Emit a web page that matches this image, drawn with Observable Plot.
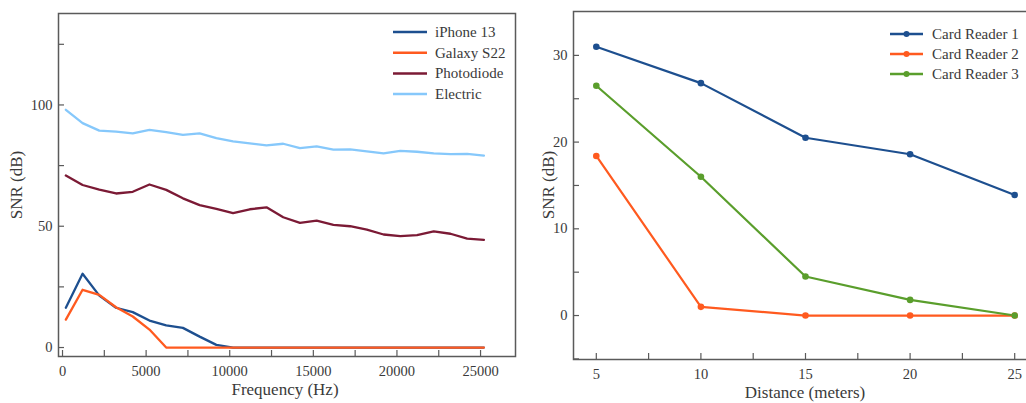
<!DOCTYPE html>
<html>
<head>
<meta charset="utf-8">
<script src="https://cdn.jsdelivr.net/npm/d3@7"></script>
<script src="https://cdn.jsdelivr.net/npm/@observablehq/plot@0.6"></script>
<style>
  html, body { margin: 0; padding: 0; background: #fff; overflow: hidden; }
  #wrap { position: relative; width: 1026px; height: 403px; overflow: hidden; }
  #left, #right { position: absolute; top: 0; width: 520px; height: 403px; }
  #left { left: 0; }
  #right { left: 520px; }
  svg { overflow: visible; max-width: none !important; }
  svg, svg text { font-family: 'Liberation Serif', 'DejaVu Serif', serif !important; }
</style>
</head>
<body>
<div id="wrap"><div id="left"></div><div id="right"></div></div>
<script>
// ---------- Left chart data ----------
const freqHz = [200, 1200, 2200, 3200, 4200, 5200, 6200, 7200, 8200, 9200, 10200, 11200, 12200,
  13200, 14200, 15200, 16200, 17200, 18200, 19200, 20200, 21200, 22200, 23200, 24200, 25200];
const iphone13 = [16.4, 30.4, 21.4, 16.4, 14.6, 11.1, 9.1, 8.1, 4.5, 1.1, 0, 0, 0,
  0, 0, 0, 0, 0, 0, 0, 0, 0, 0, 0, 0, 0];
const galaxyS22 = [11.5, 23.8, 21.7, 16.6, 12.8, 7.4, 0, 0, 0, 0, 0, 0, 0,
  0, 0, 0, 0, 0, 0, 0, 0, 0, 0, 0, 0, 0];
const photodiode = [70.9, 67.0, 65.1, 63.5, 64.2, 67.2, 65.0, 61.5, 58.7, 57.2, 55.4, 57.0, 57.8,
  53.7, 51.4, 52.3, 50.6, 50.0, 48.6, 46.6, 45.9, 46.3, 47.9, 46.9, 44.9, 44.4];
const electric = [98.0, 92.5, 89.4, 89.0, 88.3, 89.7, 88.8, 87.7, 88.3, 86.3, 85.0, 84.2, 83.3,
  84.0, 82.2, 82.9, 81.6, 81.7, 80.9, 80.0, 81.1, 80.7, 80.0, 79.7, 79.8, 79.1];
const leftSeries = ["iPhone 13", "Galaxy S22", "Photodiode", "Electric"];
const leftColors = ["#1d4f8f", "#ff5a1f", "#7b1a35", "#86c8fb"];
const leftXTickLabels = [0, 5000, 10000, 15000, 20000, 25000];
const leftXTicks = [0, 2500, 5000, 7500, 10000, 12500, 15000, 17500, 20000, 22500, 25000];
const leftYTickLabels = [0, 50, 100];
const leftYTicks = [0, 25, 50, 75, 100, 125];

// ---------- Right chart data ----------
const distances = [5, 10, 15, 20, 25];
const cardReader1 = [31.0, 26.8, 20.5, 18.6, 13.9];
const cardReader2 = [18.4, 1.0, 0, 0, 0];
const cardReader3 = [26.5, 16.0, 4.5, 1.8, 0];
const rightSeries = ["Card Reader 1", "Card Reader 2", "Card Reader 3"];
const rightColors = ["#1d4f8f", "#ff5a1f", "#5a9e2c"];
const rightXTickLabels = [5, 10, 15, 20, 25];
const rightXTicks = [5, 7.5, 10, 12.5, 15, 17.5, 20, 22.5, 25];
const rightYTickLabels = [0, 10, 20, 30];
const rightYTicks = [-5, 0, 5, 10, 15, 20, 25, 30];

const FONT = "'Liberation Serif', 'DejaVu Serif', serif";
const TEXT = "#3a3a3a";
const FRAME = "#5a5a5a";
const fmt = d3.format("d");

// build tidy tables
const leftValues = [iphone13, galaxyS22, photodiode, electric];
const leftData = leftSeries.flatMap((s, i) => freqHz.map((f, j) => ({series: s, f, v: leftValues[i][j]})));
const rightValues = [cardReader1, cardReader2, cardReader3];
const rightData = rightSeries.flatMap((s, i) => distances.map((d, j) => ({series: s, d, v: rightValues[i][j]})));

// ---------- Left plot ----------
const L = {w: 520, h: 403, ml: 58, mt: 13, mr: 5, mb: 47};
const leftPlot = Plot.plot({
  width: L.w, height: L.h,
  marginLeft: L.ml, marginTop: L.mt, marginRight: L.mr, marginBottom: L.mb,
  style: {fontFamily: FONT, fontSize: "14.5px", color: TEXT, background: "transparent"},
  x: {domain: [-240, 27090]},
  y: {domain: [-3.7, 137.7]},
  color: {domain: leftSeries, range: leftColors},
  marks: [
    Plot.line(leftData, {x: "f", y: "v", z: "series", stroke: "series", strokeWidth: 2.3, strokeLinejoin: "round"}),
    Plot.tickX(leftXTicks, {x: d => d, stroke: FRAME, strokeWidth: 1.2, insetTop: L.h - L.mt - L.mb - 6}),
    Plot.tickY(leftYTicks, {y: d => d, stroke: FRAME, strokeWidth: 1.2, insetRight: L.w - L.ml - L.mr - 6}),
    Plot.axisX({ticks: leftXTickLabels, tickFormat: fmt, tickSize: 0, tickPadding: 9, label: null, fill: TEXT}),
    Plot.axisY({ticks: leftYTickLabels, tickFormat: fmt, tickSize: 0, tickPadding: 6, label: null, fill: TEXT}),
    Plot.frame({stroke: FRAME, strokeWidth: 1.5})
  ]
});
document.getElementById("left").appendChild(leftPlot);

// ---------- Right plot ----------
const R = {w: 520, h: 403, ml: 53, mt: 11, mr: 3, mb: 44};
const rightPlot = Plot.plot({
  width: R.w, height: R.h,
  marginLeft: R.ml, marginTop: R.mt, marginRight: R.mr, marginBottom: R.mb,
  style: {fontFamily: FONT, fontSize: "14.5px", color: TEXT, background: "transparent"},
  x: {domain: [3.91, 26.09]},
  y: {domain: [-5.07, 35.06]},
  color: {domain: rightSeries, range: rightColors},
  marks: [
    Plot.line(rightData, {x: "d", y: "v", z: "series", stroke: "series", strokeWidth: 2.2, strokeLinejoin: "round"}),
    Plot.dot(rightData, {x: "d", y: "v", fill: "series", r: 3.3}),
    Plot.tickX(rightXTicks, {x: d => d, stroke: FRAME, strokeWidth: 1.2, insetTop: R.h - R.mt - R.mb - 6}),
    Plot.tickY(rightYTicks, {y: d => d, stroke: FRAME, strokeWidth: 1.2, insetRight: R.w - R.ml - R.mr - 6}),
    Plot.axisX({ticks: rightXTickLabels, tickFormat: fmt, tickSize: 0, tickPadding: 9, label: null, fill: TEXT}),
    Plot.axisY({ticks: rightYTickLabels, tickFormat: fmt, tickSize: 0, tickPadding: 6, label: null, fill: TEXT}),
    Plot.frame({stroke: FRAME, strokeWidth: 1.5})
  ]
});
document.getElementById("right").appendChild(rightPlot);

// ---------- Titles & legends ----------
function title(svg, text, x, y, rotate) {
  d3.select(svg).append("text")
    .attr("transform", `translate(${x},${y})` + (rotate ? " rotate(-90)" : ""))
    .attr("text-anchor", "middle").attr("dominant-baseline", "central")
    .style("font-family", FONT).attr("font-size", 17).attr("fill", TEXT)
    .text(text);
}
title(leftPlot, "SNR (dB)", 16, 185, true);
title(leftPlot, "Frequency (Hz)", 285, 389, false);
title(rightPlot, "SNR (dB)", 28, 185, true);
title(rightPlot, "Distance (meters)", 285, 392, false);

function legend(svg, names, colors, x0, x1, tx, y0, dy, dots) {
  const g = d3.select(svg).append("g");
  names.forEach((n, i) => {
    const y = y0 + i * dy;
    g.append("line").attr("x1", x0).attr("x2", x1).attr("y1", y).attr("y2", y)
      .attr("stroke", colors[i]).attr("stroke-width", 2.5);
    if (dots) g.append("circle").attr("cx", (x0 + x1) / 2).attr("cy", y).attr("r", 3).attr("fill", colors[i]);
    g.append("text").attr("x", tx).attr("y", y).attr("dominant-baseline", "central")
      .attr("text-anchor", "start")
      .style("font-family", FONT).attr("font-size", 15).attr("fill", TEXT).text(n);
  });
}
legend(leftPlot, leftSeries, leftColors, 393, 427, 435, 32, 20.7, false);
legend(rightPlot, rightSeries, rightColors, 370, 403, 412, 34, 20, true);
</script>
</body>
</html>
